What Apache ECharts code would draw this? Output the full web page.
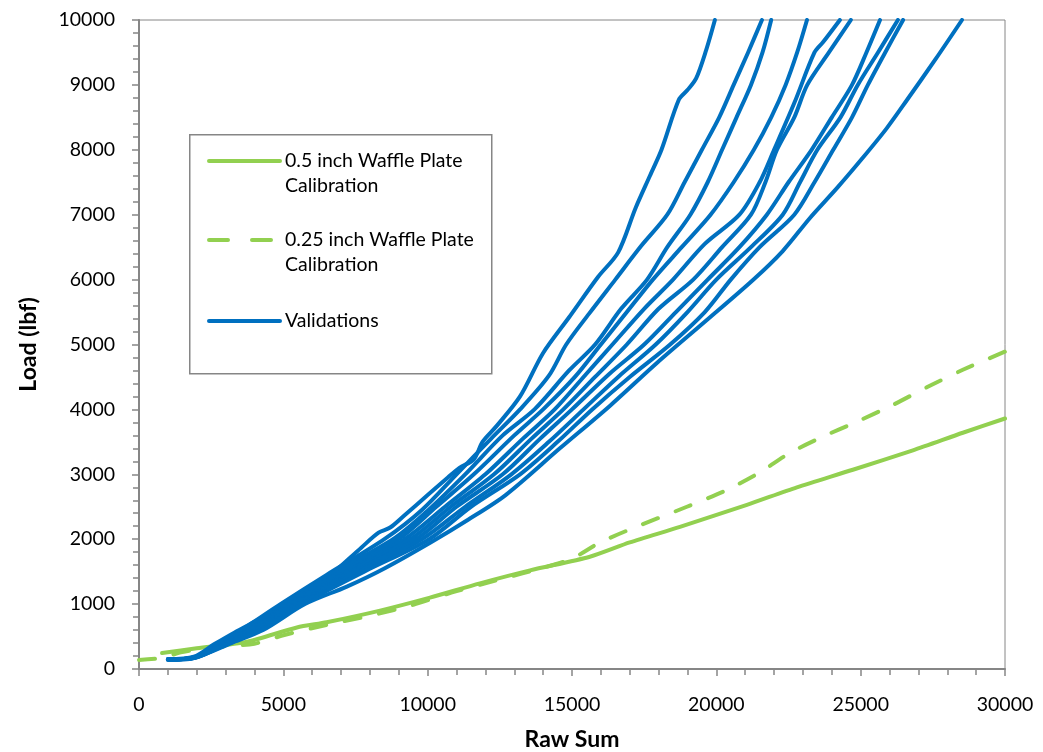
<!DOCTYPE html>
<html>
<head>
<meta charset="utf-8">
<script src="https://cdn.jsdelivr.net/npm/echarts@6/dist/echarts.min.js"></script>
<style>html,body{margin:0;padding:0;background:#fff}#c{width:1043px;height:752px}</style>
</head>
<body>
<div id="c"></div>
<script>
// ---- data (x = Raw Sum, y = Load lbf) ----
const xTicks = [0, 5000, 10000, 15000, 20000, 25000, 30000];
const yTicks = [0, 1000, 2000, 3000, 4000, 5000, 6000, 7000, 8000, 9000, 10000];

const cal05 = [[800,245],[2000,320],[3740,420],[5470,640],[6500,720],[8350,900],[10080,1100],[11810,1320],[13545,1520],[15620,1730],[17000,1950],[18740,2190],[21060,2530],[22790,2800],[24730,3070],[26810,3370],[28540,3640],[30000,3860]];
const cal025 = [[0,140],[700,165],[1500,260],[2500,330],[4000,390],[5000,520],[6500,680],[8000,820],[9500,990],[11000,1200],[12500,1380],[14000,1560],[15000,1700],[15970,1950],[17110,2170],[18980,2500],[20370,2760],[21510,3030],[22550,3330],[23690,3580],[24870,3810],[26120,4070],[27290,4340],[28540,4610],[30000,4890]];

const val1 = [[1000,150],[1900,190],[2600,380],[3300,560],[4300,800],[5200,1030],[6100,1250],[6900,1550],[7700,1870],[8300,2100],[8700,2180],[9200,2370],[10000,2680],[10700,2950],[11100,3100],[11600,3230],[11900,3500],[12400,3750],[13200,4200],[14000,4870],[14900,5420],[15900,6040],[16600,6420],[17200,7100],[17700,7600],[18100,8000],[18700,8770],[19000,8920],[19300,9100],[19650,9540],[19950,10000]];
const val2 = [[1100,150],[1950,180],[2700,390],[3500,590],[4900,1000],[6500,1450],[8500,2000],[9800,2450],[11000,3000],[12200,3550],[13200,4000],[14200,4520],[14800,5000],[15600,5480],[16500,6000],[17400,6520],[18300,7000],[18900,7500],[19500,8000],[20100,8500],[20600,9000],[21100,9500],[21580,10000]];
const val3 = [[1100,150],[1900,175],[2800,400],[3600,600],[5000,1000],[6800,1500],[8800,2000],[9900,2400],[11300,3000],[12600,3600],[13700,4000],[14900,4600],[15800,5000],[16700,5550],[17600,6000],[18300,6500],[19100,7000],[19700,7500],[20200,8000],[20700,8500],[21200,9000],[21600,9500],[21900,10000]];
const val4 = [[1000,150],[1900,180],[2900,400],[3700,600],[5150,1000],[7000,1500],[9000,2000],[10300,2500],[11600,3000],[13000,3600],[14000,4000],[15100,4500],[16000,5000],[16900,5500],[17800,6000],[18800,6500],[19800,7000],[20600,7500],[21300,8000],[21900,8500],[22400,9000],[22800,9500],[23140,10000]];
const val5 = [[1100,150],[1950,180],[2900,390],[3800,600],[5250,1000],[7200,1500],[9200,2000],[10600,2500],[12000,3000],[13300,3550],[14400,4000],[15500,4550],[16400,5000],[17500,5550],[18500,6000],[19600,6550],[20800,7000],[21500,7500],[22000,8000],[22700,8720],[23400,9500],[23700,9660],[24280,10000]];
const val6 = [[1000,150],[1900,170],[3000,400],[3900,600],[5350,1000],[7300,1500],[9400,2000],[10800,2500],[12300,3000],[13600,3550],[14700,4000],[15800,4500],[16900,5000],[18000,5550],[19200,6000],[20200,6500],[21200,7000],[21700,7500],[22100,8000],[22700,8500],[23150,9000],[23900,9500],[24660,10000]];
const val7 = [[1100,150],[2000,180],[3050,400],[4000,600],[5450,1000],[7450,1500],[9600,2000],[11000,2500],[12600,3000],[13900,3550],[15000,4000],[16300,4550],[17500,5000],[18600,5500],[19700,6000],[20800,6500],[21750,7000],[22500,7500],[23300,8000],[24000,8500],[24700,9000],[25200,9500],[25670,10000]];
const val8 = [[1000,150],[1900,180],[3100,400],[4100,600],[5550,1000],[7600,1500],[9800,2000],[11300,2500],[12900,3000],[14200,3500],[15400,4000],[16600,4500],[17900,5000],[19000,5500],[20000,6000],[21200,6500],[22300,7000],[22900,7500],[23500,8000],[24300,8500],[24900,9000],[25600,9500],[26290,10000]];
const val9 = [[1100,150],[1950,180],[3150,400],[4200,600],[5650,1000],[7800,1500],[10050,2000],[11500,2500],[13200,3000],[14500,3500],[15700,4000],[17000,4500],[18400,5000],[19600,5500],[20500,6000],[21500,6500],[22700,7000],[23400,7500],[24050,8000],[24700,8500],[25250,9000],[25850,9500],[26470,10000]];
const val10 = [[1000,140],[1900,170],[3200,400],[4300,600],[5750,1000],[7200,1270],[8500,1550],[10100,1950],[11400,2300],[12700,2680],[14580,3400],[16300,4050],[17940,4715],[19600,5350],[21270,5994],[22300,6440],[23244,6950],[24200,7420],[25080,7880],[25900,8330],[26604,8767],[27600,9400],[28510,10000]];
const validations = [val1, val2, val3, val4, val5, val6, val7, val8, val9, val10];

const seriesNames = ['0.5 inch Waffle Plate\nCalibration', '0.25 inch Waffle Plate\nCalibration', 'Validations'];
const xTitle = 'Raw Sum';
const yTitle = 'Load (lbf)';

// ---- chart ----
const FONT = 'Lato';
const GREEN = '#92D050';
const BLUE = '#0070C0';
const AXIS = '#868686';

const chart = echarts.init(document.getElementById('c'), null, {renderer: 'canvas'});

const series = [
  {name: seriesNames[0], type: 'line', data: cal05, showSymbol: false, symbol: 'none', smooth: 0.25,
   lineStyle: {color: GREEN, width: 4, cap: 'round', join: 'round'}, itemStyle: {color: GREEN}, z: 2},
  {name: seriesNames[1], type: 'line', data: cal025, showSymbol: false, symbol: 'none', smooth: 0.25,
   lineStyle: {color: GREEN, width: 4, type: [16, 19], cap: 'round', join: 'round'}, itemStyle: {color: GREEN}, z: 2}
];
validations.forEach(v => series.push({
  name: seriesNames[2], type: 'line', data: v, showSymbol: false, symbol: 'none', smooth: 0.3,
  lineStyle: {color: BLUE, width: 4, cap: 'round', join: 'round'}, itemStyle: {color: BLUE}, z: 3
}));

const LH = 25;
const legendCommon = {
  orient: 'vertical', left: 207, itemWidth: 71, itemHeight: 14, itemGap: 0, padding: 0,
  itemStyle: {opacity: 0, borderWidth: 0},
  lineStyle: {width: 4, cap: 'round'},
  textStyle: {fontFamily: FONT, fontSize: 19.5, color: '#000', lineHeight: LH},
  // leading blank line keeps the icon level with the first text line
  formatter: name => name.indexOf('\n') >= 0 ? '\n' + name : name,
  selectedMode: true
};

chart.setOption({
  animation: false,
  backgroundColor: '#fff',
  grid: {left: 139, right: 38, top: 20, bottom: 83, outerBoundsMode: 'none', containLabel: false,
         show: true, borderColor: AXIS, borderWidth: 1, backgroundColor: 'transparent'},
  graphic: [{
    type: 'rect', left: 189, top: 134, z: 1, silent: true,
    shape: {width: 302, height: 239},
    style: {fill: '#fff', stroke: AXIS, lineWidth: 1.5}
  }],
  legend: [
    Object.assign({}, legendCommon, {top: 161 - 1.5 * LH, data: [seriesNames[0]]}),
    Object.assign({}, legendCommon, {top: 240 - 1.5 * LH,
      data: [{name: seriesNames[1], lineStyle: {type: [19, 24], width: 4, cap: 'round'}}]}),
    Object.assign({}, legendCommon, {top: 321 - 0.5 * LH, data: [seriesNames[2]]})
  ],
  xAxis: {
    type: 'value', min: xTicks[0], max: xTicks[xTicks.length - 1], interval: 5000,
    name: xTitle, nameLocation: 'middle', nameGap: 59,
    nameTextStyle: {fontFamily: FONT, fontSize: 23, fontWeight: 'bold', color: '#000'},
    axisLine: {show: true, onZero: false, lineStyle: {color: AXIS, width: 2}},
    axisTick: {show: true, inside: false, length: 7, lineStyle: {color: AXIS, width: 1.5}},
    minorTick: {show: true, splitNumber: 5, length: 6, lineStyle: {color: AXIS, width: 1.5}},
    splitLine: {show: false},
    axisLabel: {fontFamily: FONT, fontSize: 19.5, color: '#000', margin: 26, formatter: v => String(v)}
  },
  yAxis: {
    type: 'value', min: yTicks[0], max: yTicks[yTicks.length - 1], interval: 1000,
    name: yTitle, nameLocation: 'middle', nameGap: 99, nameRotate: 90,
    nameTextStyle: {fontFamily: FONT, fontSize: 23, fontWeight: 'bold', color: '#000'},
    axisLine: {show: true, onZero: false, lineStyle: {color: AXIS, width: 2}},
    axisTick: {show: true, inside: false, length: 7, lineStyle: {color: AXIS, width: 1.5}},
    minorTick: {show: true, splitNumber: 5, length: 6, lineStyle: {color: AXIS, width: 1.5}},
    splitLine: {show: false},
    axisLabel: {fontFamily: FONT, fontSize: 19.5, color: '#000', margin: 24, formatter: v => String(v)}
  },
  series: series
});
</script>
</body>
</html>
